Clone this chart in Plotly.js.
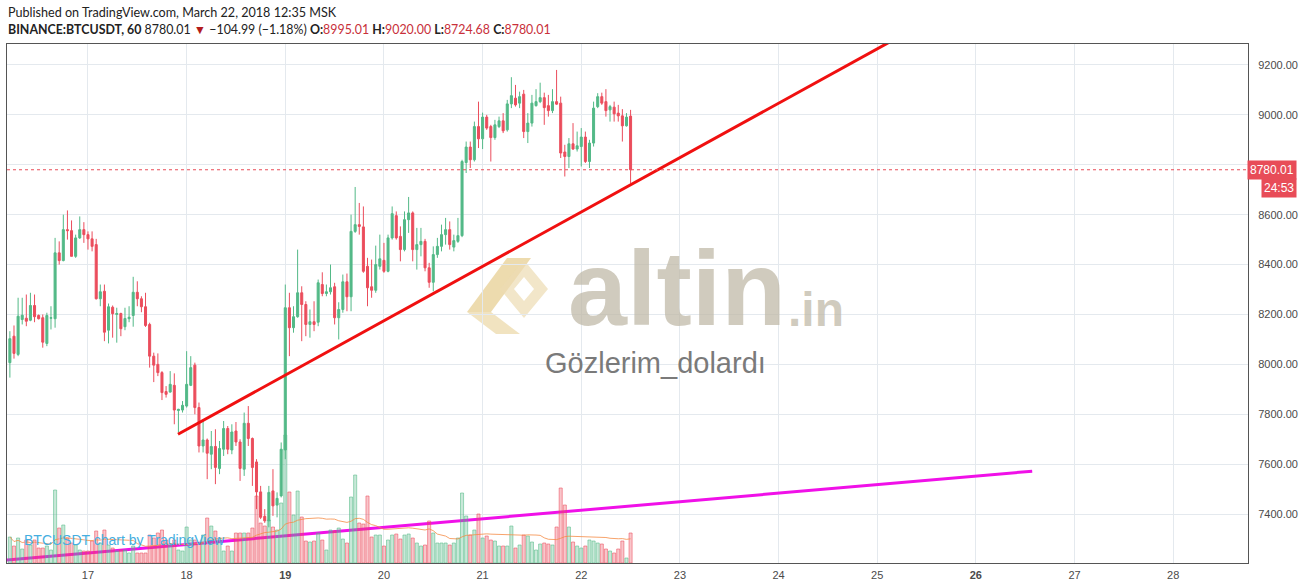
<!DOCTYPE html>
<html>
<head>
<meta charset="utf-8">
<script src="https://cdn.plot.ly/plotly-3.0.1.min.js"></script>
<style>
html,body{margin:0;padding:0;background:#fff;}
#chart{width:1312px;height:588px;}
</style>
</head>
<body>
<div id="chart"></div>
<script>
// ---- data (hourly BTCUSDT candles, first candle 2018-03-16 05:00) ----
const firstCandle = '2018-03-16T05:00:00Z';
const opens = [8007,8113,8040,8180,8185,8177,8236,8196,8187,8084,8185,8183,8447,8416,8540,8536,8433,8507,8540,8520,
8503,8480,8263,8293,8137,8229,8200,8204,8151,8183,8196,8289,8263,8231,8160,8033,8000,7967,7891,7889,
7916,7815,7817,7833,7916,7997,7827,7673,7697,7640,7671,7583,7660,7743,7657,7733,7689,7580,7764,7703,
7609,7489,7391,7373,7493,7436,7473,7657,8227,8147,8191,8287,8240,8160,8171,8169,8320,8284,8291,8311,
8187,8220,8331,8271,8533,8560,8551,8393,8311,8297,8393,8417,8373,8507,8596,8513,8460,8580,8607,8460,
8480,8493,8387,8329,8440,8473,8520,8540,8470,8493,8516,8809,8871,8820,8953,8904,8991,8953,8909,8953,
8976,8940,9044,9067,9047,9083,8933,8967,9037,9053,9069,9037,9017,9053,9047,8851,8833,8884,8863,8873,
8911,8813,8887,9033,9073,9053,9020,9031,9007,8996,8956,8995.01];
const highs = [8133,8156,8267,8267,8280,8287,8280,8200,8200,8207,8233,8507,8493,8600,8617,8577,8520,8593,8570,8533,
8533,8503,8320,8320,8244,8236,8227,8207,8227,8233,8351,8333,8273,8287,8167,8047,8044,7973,7913,7973,
7964,7822,7853,8053,8033,8007,7847,7780,7703,7733,7740,7693,7773,7753,7760,7769,7700,7807,7833,7707,
7620,7513,7420,7513,7580,7487,7687,8320,8287,8233,8460,8313,8253,8220,8253,8340,8369,8320,8400,8327,
8249,8360,8364,8600,8711,8647,8633,8427,8420,8476,8520,8487,8520,8633,8613,8553,8613,8671,8613,8547,
8547,8503,8407,8473,8507,8560,8587,8573,8520,8587,8820,8893,8893,8973,9053,9009,9000,8960,8980,8993,
9007,9060,9151,9120,9093,9100,9007,9080,9103,9129,9089,9080,9103,9180,9073,8880,8907,8967,8933,8947,
8933,8900,9053,9087,9089,9103,9040,9053,9040,9023,9007,9020.00];
const lows = [7947,8023,8033,8160,8153,8173,8169,8180,8067,8073,8140,8147,8400,8413,8500,8433,8427,8503,8487,8460,
8453,8260,8233,8093,8084,8107,8087,8113,8137,8169,8151,8233,8209,8150,7987,7929,7953,7857,7867,7887,
7760,7727,7807,7827,7913,7800,7647,7647,7540,7580,7520,7560,7633,7640,7640,7673,7533,7553,7673,7513,
7420,7380,7365,7347,7393,7387,7467,7620,8033,8127,8187,8093,8113,8107,8133,8153,8273,8273,8280,8160,
8100,8207,8213,8213,8527,8520,8367,8233,8267,8287,8380,8367,8369,8500,8500,8413,8453,8527,8413,8380,
8433,8373,8307,8293,8427,8453,8480,8460,8453,8487,8510,8767,8787,8813,8867,8863,8940,8813,8900,8947,
8927,8933,9027,9033,9027,8907,8887,8953,9033,9047,8960,8993,9007,9040,8827,8753,8787,8860,8853,8793,
8807,8787,8873,9027,9040,8993,8973,8973,8973,8893,8953,8724.68];
const closes = [8103,8044,8193,8197,8173,8236,8191,8183,8089,8196,8187,8447,8416,8540,8536,8433,8507,8540,8520,8503,
8473,8263,8291,8129,8231,8203,8204,8143,8184,8189,8289,8263,8231,8156,8033,7997,7967,7887,7880,7920,
7817,7820,7836,7920,7987,7827,7673,7697,7644,7671,7587,7663,7743,7660,7729,7689,7583,7764,7703,7587,
7489,7387,7373,7487,7433,7463,7660,8227,8147,8191,8287,8240,8160,8171,8160,8327,8284,8291,8307,8187,
8220,8331,8271,8533,8560,8553,8373,8307,8297,8400,8423,8373,8507,8604,8507,8460,8580,8607,8460,8480,
8493,8387,8329,8440,8473,8520,8540,8480,8496,8516,8813,8871,8820,8953,8904,8991,8947,8909,8960,8976,
8936,9044,9077,9040,9073,8933,8967,9047,9053,9069,9029,9017,9053,9043,8847,8833,8884,8863,8876,8911,
8813,8887,9027,9073,9047,9017,9033,9004,8996,8956,8991,8780.01];
const volumes = [26,17,25,14,23,18,23,15,15,17,13,73,35,38,25,20,18,13,12,12,
22,32,20,33,18,15,12,13,13,10,17,10,10,10,28,25,30,33,23,18,
23,13,12,36,23,23,20,28,45,37,32,25,12,17,12,30,30,30,30,35,
67,40,37,43,36,33,60,128,71,48,72,46,22,21,22,30,23,13,33,32,
35,24,20,66,88,40,39,67,26,28,28,17,23,28,29,24,28,29,25,20,
17,18,42,30,20,20,20,18,20,25,70,47,28,33,49,25,27,23,22,17,
17,17,37,15,18,28,27,21,13,19,20,19,18,36,75,58,36,21,17,15,
17,23,22,20,19,14,12,10,14,22,5,30];
const volMaLength = 20;
// trend lines drawn on the chart (time, price)
const redLineTimes = ['2018-03-17 21:54', '2018-03-26 05:54'];
const redLinePrices = [7720, 9536];
const pinkLineTimes = ['2018-03-16 04:18', '2018-03-26 13:42'];
const pinkLinePrices = [7216, 7572];
const lastPrice = 8780.01;
const dayTicks = ['2018-03-17','2018-03-18','2018-03-19','2018-03-20','2018-03-21','2018-03-22','2018-03-23','2018-03-24','2018-03-25','2018-03-26','2018-03-27','2018-03-28'];
const dayLabels = ['17','18','<b>19</b>','20','21','22','23','24','25','<b>26</b>','27','28'];
const priceTicks = [7400,7600,7800,8000,8200,8400,8600,8800,9000,9200];
const hiddenPriceLabels = [8800]; // covered by the last-price label

// ---- build ----
const t0 = Date.parse(firstCandle);
const times = opens.map((_, i) => new Date(t0 + i * 3600000).toISOString().slice(0, 19).replace('T', ' '));
const up = opens.map((o, i) => closes[i] >= o);
const volMa = volumes.map((_, i) => {
  const s = Math.max(0, i - volMaLength + 1);
  const w = volumes.slice(s, i + 1);
  return w.reduce((a, b) => a + b, 0) / w.length;
});

const GREEN = '#53b987', RED = '#eb4d5c';
const L = 7, R = 1248, T = 44, B = 563;
const px = x => (x - L) / (R - L);
const py = y => (B - y) / (B - T);

const traces = [
  {type: 'bar', x: times, y: volumes, yaxis: 'y2', width: 2700000,
   marker: {color: up.map(u => u ? 'rgba(83,185,135,0.32)' : 'rgba(235,77,92,0.32)'),
            line: {color: up.map(u => u ? 'rgba(83,185,135,0.55)' : 'rgba(235,77,92,0.55)'), width: 1}},
   hoverinfo: 'skip', showlegend: false},
  {type: 'scatter', mode: 'lines', x: times, y: volMa, yaxis: 'y2',
   line: {color: 'rgba(245,140,70,0.8)', width: 1}, hoverinfo: 'skip', showlegend: false},
  {type: 'candlestick', x: times, open: opens, high: highs, low: lows, close: closes,
   increasing: {line: {color: GREEN, width: 1}, fillcolor: GREEN},
   decreasing: {line: {color: RED, width: 1}, fillcolor: RED},
   whiskerwidth: 0, showlegend: false, hoverinfo: 'skip'},
  {type: 'scatter', mode: 'lines', x: redLineTimes, y: redLinePrices,
   line: {color: '#f01010', width: 3}, hoverinfo: 'skip', showlegend: false},
  {type: 'scatter', mode: 'lines', x: pinkLineTimes, y: pinkLinePrices,
   line: {color: '#f010e8', width: 3}, hoverinfo: 'skip', showlegend: false}
];

const shapes = [
  {type: 'line', xref: 'paper', x0: 0, x1: 1, yref: 'y', y0: lastPrice, y1: lastPrice,
   line: {color: '#e84c58', width: 1, dash: 'dot'}, layer: 'above'},
  // watermark logo
  {type: 'path', xref: 'paper', yref: 'paper', layer: 'below', line: {width: 0},
   fillcolor: 'rgba(228,200,130,0.65)',
   path: `M ${px(467)},${py(312)} L ${px(507)},${py(258)} L ${px(531)},${py(258)} L ${px(491)},${py(312)} Z`},
  {type: 'path', xref: 'paper', yref: 'paper', layer: 'below', line: {width: 0},
   fillcolor: 'rgba(232,208,150,0.6)',
   path: `M ${px(467)},${py(312)} L ${px(491)},${py(312)} L ${px(520)},${py(334)} L ${px(496)},${py(334)} Z`},
  {type: 'path', xref: 'paper', yref: 'paper', layer: 'below', line: {width: 0},
   fillcolor: 'rgba(236,220,178,0.7)',
   path: `M ${px(524)},${py(260)} L ${px(548)},${py(289)} L ${px(524)},${py(318)} L ${px(500)},${py(289)} Z M ${px(524)},${py(277)} L ${px(514)},${py(289)} L ${px(524)},${py(301)} L ${px(534)},${py(289)} Z`}
];

const RC = '#c8303a';
const annotations = [
  {xref: 'paper', yref: 'paper', x: px(6), y: py(13), xanchor: 'left', yanchor: 'middle', showarrow: false,
   text: 'Published on TradingView.com, March 22, 2018 12:35 MSK',
   font: {family: 'Lato, sans-serif', size: 12.6, color: '#222'}},
  {xref: 'paper', yref: 'paper', x: px(6), y: py(30), xanchor: 'left', yanchor: 'middle', showarrow: false,
   text: `<b>BINANCE:BTCUSDT, 60</b> 8780.01 <span style="color:#b31b1b">▼</span> −104.99 (−1.18%) <b>O:</b><span style="color:${RC}">8995.01</span> <b>H:</b><span style="color:${RC}">9020.00</span> <b>L:</b><span style="color:${RC}">8724.68</span> <b>C:</b><span style="color:${RC}">8780.01</span>`,
   font: {family: 'Lato, sans-serif', size: 12.4, color: '#222'}},
  {xref: 'paper', yref: 'y', x: px(1297), y: lastPrice, xanchor: 'right', yanchor: 'middle', showarrow: false,
   text: '8780.01', bgcolor: '#e84c58', borderpad: 2,
   font: {family: 'Liberation Sans, Arial, sans-serif', size: 12, color: '#fff'}},
  {xref: 'paper', yref: 'paper', x: px(1297), y: py(188), xanchor: 'right', yanchor: 'middle', showarrow: false,
   text: '24:53', bgcolor: '#e84c58', borderpad: 2,
   font: {family: 'Liberation Sans, Arial, sans-serif', size: 12, color: '#fff'}},
  {xref: 'paper', yref: 'paper', x: px(677), y: py(288), xanchor: 'center', yanchor: 'middle', showarrow: false,
   text: '<b>altin</b>', font: {family: 'Liberation Sans, Arial, sans-serif', size: 106, color: 'rgba(190,183,165,0.72)'}},
  {xref: 'paper', yref: 'paper', x: px(816), y: py(309), xanchor: 'center', yanchor: 'middle', showarrow: false,
   text: '<b>.in</b>', font: {family: 'Liberation Sans, Arial, sans-serif', size: 48, color: 'rgba(190,183,165,0.72)'}},
  {xref: 'paper', yref: 'paper', x: px(655), y: py(363), xanchor: 'center', yanchor: 'middle', showarrow: false,
   text: 'Gözlerim_dolardı', font: {family: 'Liberation Sans, Arial, sans-serif', size: 29, color: '#7a7a7a'}},
  {xref: 'paper', yref: 'paper', x: px(22), y: py(540), xanchor: 'left', yanchor: 'middle', showarrow: false,
   text: 'BTCUSDT chart by TradingView', font: {family: 'Liberation Sans, Arial, sans-serif', size: 14, color: '#45aee0'}}
];

const layout = {
  width: 1312, height: 588,
  margin: {l: L, r: 1312 - R, t: T, b: 588 - B},
  paper_bgcolor: '#fff', plot_bgcolor: '#fff',
  showlegend: false, hovermode: false, dragmode: false,
  xaxis: {type: 'date', range: ['2018-03-16 04:18', '2018-03-28 18:12'],
          tickmode: 'array', tickvals: dayTicks, ticktext: dayLabels,
          showgrid: true, gridcolor: '#e4e9ee', gridwidth: 1,
          showline: true, linecolor: '#555', linewidth: 1, mirror: true,
          ticks: '', ticklabelstandoff: 2,
          tickfont: {family: 'Liberation Sans, Arial, sans-serif', size: 11, color: '#4a4a4a'},
          rangeslider: {visible: false}, zeroline: false, fixedrange: true},
  yaxis: {side: 'right', range: [7204, 9284], tickmode: 'array', tickvals: priceTicks,
          ticktext: priceTicks.map(v => hiddenPriceLabels.includes(v) ? '' : v.toFixed(2)),
          showgrid: true, gridcolor: '#e4e9ee', gridwidth: 1,
          showline: true, linecolor: '#555', linewidth: 1, mirror: true,
          ticks: '', ticklabelstandoff: 7, zeroline: false, fixedrange: true,
          tickfont: {family: 'Liberation Sans, Arial, sans-serif', size: 11, color: '#4a4a4a'}},
  yaxis2: {overlaying: 'y', range: [0, B - T], visible: false, fixedrange: true},
  bargap: 0,
  shapes: shapes,
  annotations: annotations
};

Plotly.newPlot('chart', traces, layout, {staticPlot: true, displayModeBar: false});
</script>
</body>
</html>
